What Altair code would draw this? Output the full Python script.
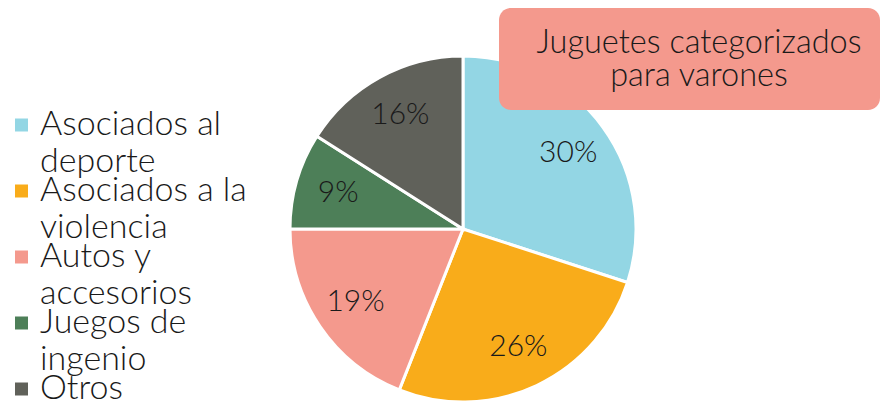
import altair as alt
import pandas as pd

categories = ["Asociados al deporte", "Asociados a la violencia", "Autos y accesorios",
              "Juegos de ingenio", "Otros"]
legend_lines = [["Asociados al", "deporte"], ["Asociados a la", "violencia"],
                ["Autos y", "accesorios"], ["Juegos de", "ingenio"], ["Otros"]]
values = [30, 26, 19, 9, 16]
colors = ["#93D6E4", "#F9AC1A", "#F4998D", "#4D7F58", "#60615A"]
title_lines = ["Juguetes categorizados", "para varones"]

df = pd.DataFrame({
    "cat": categories,
    "value": values,
    "order": list(range(len(categories))),
    "label": [f"{v}%" for v in values],
})
legend_df = pd.DataFrame({
    "cat": categories,
    "text": ["\n".join(l) for l in legend_lines],
})

FONT = "Lato"
WEIGHT = 300
TXT = "#1a1a1a"
CX, CY, R = 455, 221, 173

color_scale = alt.Scale(domain=categories, range=colors)

base = alt.Chart(df).encode(
    theta=alt.Theta("value:Q", stack=True),
    order=alt.Order("order:Q"),
    x=alt.value(CX),
    y=alt.value(CY),
)

arcs = base.mark_arc(outerRadius=R, stroke="white", strokeWidth=3).encode(
    color=alt.Color("cat:N", sort=categories, scale=color_scale, legend=None)
)

labels = base.mark_text(radius=130, font=FONT, fontSize=30, fontWeight=WEIGHT,
                        color=TXT).encode(text="label:N")

# legend built from the category list through a point scale
leg_y = alt.Y("cat:N", sort=categories, axis=None,
              scale=alt.Scale(type="point", domain=categories, range=[117, 381], padding=0))
leg_sym = alt.Chart(legend_df).mark_square(size=169, opacity=1).encode(
    x=alt.value(13.5),
    y=leg_y,
    color=alt.Color("cat:N", sort=categories, scale=color_scale, legend=None),
)
leg_txt = alt.Chart(legend_df).mark_text(
    font=FONT, fontSize=34, fontWeight=WEIGHT, color=TXT, lineBreak="\n",
    lineHeight=36.5, align="left", baseline="middle"
).encode(x=alt.value(32), y=leg_y, text="text:N")

title_df = pd.DataFrame({"title": ["\n".join(title_lines)]})
box = alt.Chart(title_df).mark_rect(color="#F4998D", cornerRadius=12).encode(
    x=alt.value(491), x2=alt.value(872), y=alt.value(0), y2=alt.value(102)
)
title_text = alt.Chart(title_df).mark_text(
    font=FONT, fontSize=32.5, fontWeight=WEIGHT, color=TXT, lineBreak="\n",
    lineHeight=33, align="center", baseline="middle"
).encode(x=alt.value(691), y=alt.value(35), text="title:N")

chart = alt.layer(arcs, labels, leg_sym, leg_txt, box, title_text).properties(
    width=874, height=395,
    autosize=alt.AutoSizeParams(type="none"),
    padding=0,
).configure(
    view=alt.ViewConfig(stroke=None),
)

chart.save("out.html", embed_options={"renderer": "svg", "actions": False})
